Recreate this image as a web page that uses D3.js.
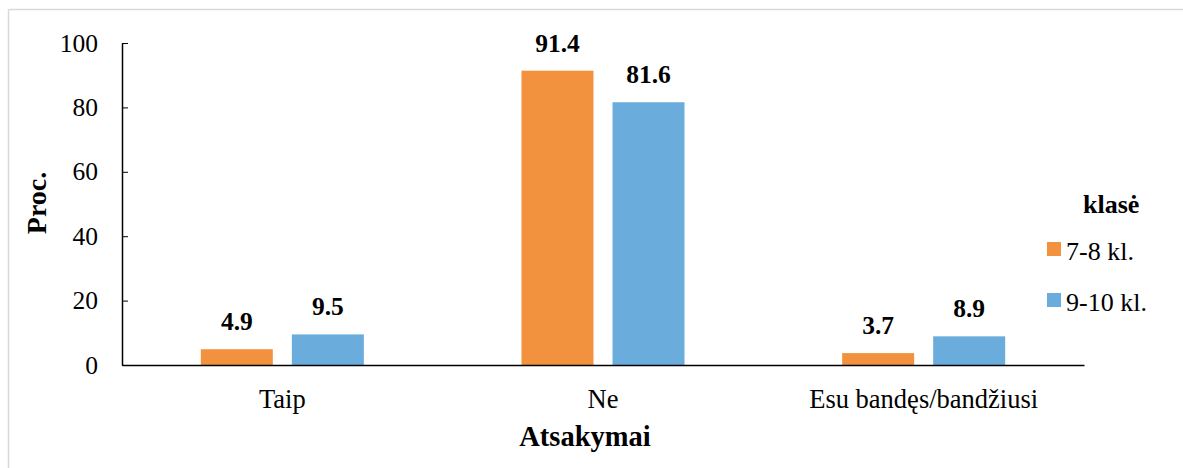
<!DOCTYPE html>
<html><head><meta charset="utf-8">
<script src="https://cdn.jsdelivr.net/npm/d3@7"></script>
<style>body{margin:0;background:#fff}svg{display:block}</style>
</head><body><svg id="c" width="1183" height="468"></svg>
<script>
const categories = ["Taip", "Ne", "Esu bandęs/bandžiusi"];
const seriesNames = ["7-8 kl.", "9-10 kl."];
const series78 = [4.9, 91.4, 3.7];
const series910 = [9.5, 81.6, 8.9];
const yTicks = [0, 20, 40, 60, 80, 100];
const colors = ["#F2923F", "#6AACDC"];
const FONT = "Liberation Serif";

const svg = d3.select("#c");
svg.append("line").attr("x1",8.5).attr("x2",1183).attr("y1",9.5).attr("y2",9.5).attr("stroke","#d9d9d9").attr("stroke-width",1.5);
svg.append("line").attr("x1",8.5).attr("x2",8.5).attr("y1",9.5).attr("y2",468).attr("stroke","#d9d9d9").attr("stroke-width",1.5);

const x0 = 122, x1 = 1084, yTop = 43, yBot = 365;
const x = d3.scaleBand().domain(categories).range([x0, x1]).paddingInner(0).paddingOuter(0);
const y = d3.scaleLinear().domain([0, 100]).range([yBot, yTop]);
const sub = d3.scaleBand().domain(seriesNames).range([0, x.bandwidth()]).paddingInner(0.209).paddingOuter(0.866);

const data = categories.map((c, i) => ({cat: c, vals: [series78[i], series910[i]]}));

const g = svg.append("g");
data.forEach(d => {
  d.vals.forEach((v, j) => {
    const bx = x(d.cat) + sub(seriesNames[j]);
    g.append("rect").attr("x", bx).attr("y", y(v)).attr("width", sub.bandwidth())
      .attr("height", y(0) - y(v)).attr("fill", colors[j]);
    g.append("text").attr("x", bx + sub.bandwidth()/2).attr("y", y(v) - 19)
      .attr("text-anchor","middle").attr("font-weight","bold").attr("font-size", 25.5).attr("font-family", FONT).attr("fill","#000").text(v.toFixed(1));
  });
});

const yAxis = d3.axisLeft(y).tickValues(yTicks).tickSizeInner(-6).tickSizeOuter(0).tickPadding(24);
const ya = svg.append("g").attr("transform", `translate(${x0},0)`).call(yAxis);
ya.attr("font-family", FONT).attr("font-size", 25.5);
ya.selectAll("text").attr("fill","#000");
ya.selectAll("line").attr("stroke","#000");
ya.select(".domain").attr("stroke","#000").attr("stroke-width",1.5);

const xAxis = d3.axisBottom(x).tickSize(0).tickPadding(24);
const xa = svg.append("g").attr("transform", `translate(0,${yBot})`).call(xAxis);
xa.attr("font-family", FONT).attr("font-size", 26.5);
xa.selectAll("text").attr("fill","#000");
xa.select(".domain").attr("stroke","#000").attr("stroke-width",1.5);

svg.append("text").attr("x", 585).attr("y", 446).attr("text-anchor","middle").attr("font-weight","bold").attr("font-size",28.5).attr("font-family", FONT).text("Atsakymai");
svg.append("text").attr("transform","translate(46,203) rotate(-90)").attr("text-anchor","middle").attr("font-weight","bold").attr("font-size",28).attr("font-family", FONT).text("Proc.");

svg.append("text").attr("x", 1083).attr("y", 213).attr("font-weight","bold").attr("font-size",26).attr("font-family", FONT).text("klasė");
seriesNames.forEach((n, j) => {
  const ly = 242 + j * 51;
  svg.append("rect").attr("x",1047).attr("y",ly).attr("width",14).attr("height",14).attr("fill",colors[j]);
  svg.append("text").attr("x",1066).attr("y",ly+18).attr("font-size",26).attr("font-family", FONT).text(n);
});
</script></body></html>
